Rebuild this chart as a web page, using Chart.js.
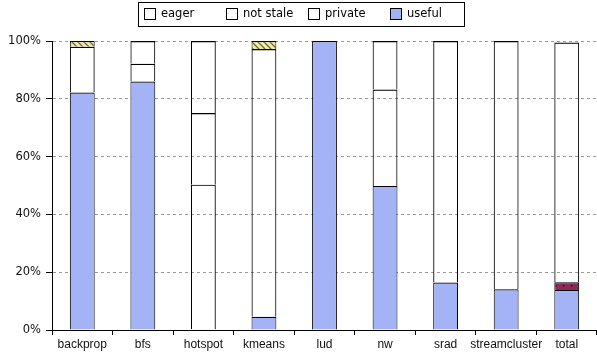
<!DOCTYPE html>
<html>
<head>
<meta charset="utf-8">
<script src="https://cdn.jsdelivr.net/npm/chart.js@4/dist/chart.umd.min.js"></script>
<style>
  body { margin: 0; background: #fff; }
  #wrap { width: 597px; height: 354px; }
</style>
</head>
<body>
<div id="wrap"><canvas id="shareChart" width="597" height="354"></canvas></div>
<script>
// Per-benchmark breakdown, stacked to 100% (null = segment not present)
const categories = ["backprop", "bfs", "hotspot", "kmeans", "lud", "nw", "srad", "streamcluster", "total"];

const useful     = [82.2, 86.0,  0.3,  4.6, 100,  49.8, 16.4, 14.1, 13.8];
const hatchedLow = [null, null, null, null, null, null, null, null, 2.7];
const privateShr = [15.8, 6.1,  50.0, 92.6, null, 33.4, 83.6, 85.9, 83.0];
const notStale   = [null, 7.9,  24.8, null, null, 16.8, null, null, null];
const eager      = [null, null, 24.9, null, null, null, null, null, null];
const hatchedTop = [2.0,  null, null, 2.8,  null, null, null, null, null];

const legendOrder = ["eager", "not stale", "private", "useful"];

// small tiled fills for the hatched segments
function stripePattern() {
    const c = document.createElement("canvas");
    c.width = 6; c.height = 6;
    const g = c.getContext("2d");
    g.fillStyle = "#f2eca6";
    g.fillRect(0, 0, 6, 6);
    g.strokeStyle = "#6f6a3a";
    g.lineWidth = 1.3;
    g.beginPath();
    g.moveTo(-1, -1); g.lineTo(7, 7);
    g.moveTo(-4, 2); g.lineTo(4, 10);
    g.moveTo(2, -4); g.lineTo(10, 4);
    g.stroke();
    return g.createPattern(c, "repeat");
}

function dotPattern() {
    const c = document.createElement("canvas");
    c.width = 8; c.height = 6;
    const g = c.getContext("2d");
    g.fillStyle = "#8e2a5a";
    g.fillRect(0, 0, 8, 6);
    g.fillStyle = "#111";
    g.fillRect(3, 3, 1.5, 1.5);
    return g.createPattern(c, "repeat");
}

// each segment outlines its top and sides only, so stacked joins stay one line thick
const edge = "#000";
function series(label, data, fill) {
    return {
        label: label,
        data: data,
        backgroundColor: fill,
        borderColor: edge,
        borderWidth: { top: 1.2, left: 1, right: 1, bottom: 0 },
        borderSkipped: false,
        categoryPercentage: 1,
        barPercentage: 0.41
    };
}

const datasets = [
    series("useful", useful, "#a4b3f6"),
    series("", hatchedLow, dotPattern()),
    series("private", privateShr, "rgba(255,255,255,0)"),
    series("not stale", notStale, "rgba(255,255,255,0)"),
    series("eager", eager, "rgba(255,255,255,0)"),
    series("", hatchedTop, stripePattern())
];

// framed legend across the top, one fixed-width slot per entry
const boxedLegend = {
    id: "boxedLegend",
    afterDraw(chart) {
        const ctx = chart.ctx;
        ctx.save();
        ctx.strokeStyle = "#000";
        ctx.lineWidth = 1;
        ctx.strokeRect(138.5, 2.5, 326, 24);
        ctx.font = "11.5px 'DejaVu Sans'";
        ctx.textBaseline = "middle";
        legendOrder.forEach((name, i) => {
            const ds = chart.data.datasets.find(d => d.label === name);
            const x = 144 + i * 82;
            ctx.fillStyle = ds.backgroundColor;
            ctx.fillRect(x + 0.5, 8.5, 11, 11);
            ctx.strokeStyle = "#000";
            ctx.strokeRect(x + 0.5, 8.5, 11, 11);
            ctx.fillStyle = "#000";
            ctx.fillText(name, x + 17, 14.5);
        });
        ctx.restore();
    }
};

new Chart(document.getElementById("shareChart"), {
    type: "bar",
    data: { labels: categories, datasets: datasets },
    options: {
        responsive: false,
        animation: false,
        layout: { padding: { top: 41, right: 0, left: 0, bottom: 0 } },
        plugins: {
            legend: { display: false },
            tooltip: { enabled: false }
        },
        scales: {
            x: {
                stacked: true,
                offset: true,
                afterFit: (s) => { s.height = 24; },
                grid: {
                    offset: true,
                    drawOnChartArea: false,
                    drawTicks: true,
                    tickLength: 5,
                    tickColor: "#000"
                },
                border: { color: "#000", width: 1 },
                ticks: {
                    color: "#111",
                    padding: 2,
                    maxRotation: 0,
                    autoSkip: false,
                    font: { family: "'Liberation Sans'", size: 12 }
                }
            },
            y: {
                stacked: true,
                min: 0,
                max: 100,
                afterFit: (s) => { s.width = 52; },
                grid: {
                    color: "#9a9a9a",
                    tickColor: "#000",
                    tickLength: 6,
                    drawTicks: true
                },
                border: { color: "#000", width: 1, dash: [3, 3] },
                ticks: {
                    stepSize: 20,
                    padding: 5,
                    color: "#111",
                    font: { family: "'DejaVu Sans'", size: 11.5 },
                    callback: (v) => v + "%"
                }
            }
        }
    },
    plugins: [boxedLegend]
});
</script>
</body>
</html>
